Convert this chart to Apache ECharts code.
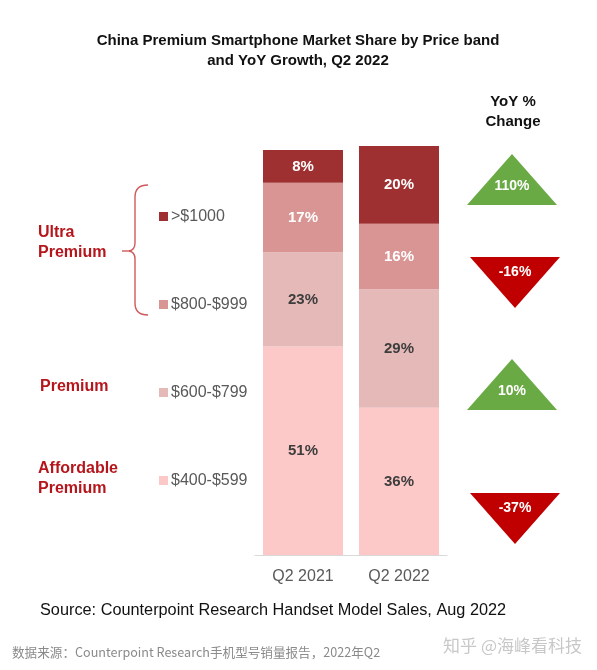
<!DOCTYPE html>
<html>
<head>
<meta charset="utf-8">
<script src="https://cdn.jsdelivr.net/npm/echarts@6/dist/echarts.min.js"></script>
<style>
html,body{margin:0;padding:0;background:#fff;}
#chart{width:597px;height:670px;}
</style>
</head>
<body>
<div id="chart"></div>
<script>
// ---- data ----
var categories = ['Q2 2021', 'Q2 2022'];
var bandNames = ['$400-$599', '$600-$799', '$800-$999', '>$1000'];
var share400 = [51, 36];
var share600 = [23, 29];
var share800 = [17, 16];
var share1000 = [8, 20];
var yoyBands = ['>$1000', '$800-$999', '$600-$799', '$400-$599'];
var yoyChange = [110, -16, 10, -37];
var groupLabels = ['Ultra\nPremium', 'Premium', 'Affordable\nPremium'];

// ---- styles ----
var FONT = '"Liberation Sans", Arial, sans-serif';
var bandColors = ['#fcc9c8', '#e5b9b8', '#d99594', '#9e3032'];
var labelColors = ['#3d3d3d', '#3d3d3d', '#ffffff', '#ffffff'];
var shareSeries = [share400, share600, share800, share1000];

var chart = echarts.init(document.getElementById('chart'), null, {renderer: 'canvas'});

var series = shareSeries.map(function (vals, i) {
  return {
    name: bandNames[i],
    type: 'bar',
    stack: 'share',
    barWidth: 80,
    data: vals,
    itemStyle: {color: bandColors[i]},
    label: {
      show: true, position: 'inside', formatter: '{c}%',
      fontFamily: FONT, fontWeight: 'bold', fontSize: 15, color: labelColors[i]
    },
    emphasis: {disabled: true}
  };
});

// YoY triangles
var triX = 512, triW = 90, triH = 51;
var triTops = [154, 257, 359, 493];
var graphics = [];
yoyChange.forEach(function (v, i) {
  var up = v >= 0;
  var t = triTops[i], b = t + triH;
  var cx = up ? triX : triX + 3;
  var pts = up ? [[cx, t], [cx + triW / 2, b], [cx - triW / 2, b]]
               : [[cx - triW / 2, t], [cx + triW / 2, t], [cx, b]];
  graphics.push({
    type: 'polygon', shape: {points: pts},
    style: {fill: up ? '#6aaa45' : '#c00000'}
  });
  graphics.push({
    type: 'text', x: cx, y: up ? t + 32 : t + 15,
    style: {
      text: v + '%', fill: '#ffffff', font: 'bold 14px ' + FONT,
      textAlign: 'center', textVerticalAlign: 'middle'
    }
  });
});

// Title, headers, notes
graphics.push({
  type: 'text', x: 298, y: 51,
  style: {
    text: 'China Premium Smartphone Market Share by Price band\nand YoY Growth, Q2 2022',
    fill: '#111', font: 'bold 15px ' + FONT, textAlign: 'center', textVerticalAlign: 'middle',
    lineHeight: 20
  }
});
graphics.push({
  type: 'text', x: 513, y: 112,
  style: {
    text: 'YoY %\nChange', fill: '#111', font: 'bold 15px ' + FONT,
    textAlign: 'center', textVerticalAlign: 'middle', lineHeight: 20
  }
});
// group labels
var groupPos = [[38, 243], [40, 387], [38, 479]];
groupLabels.forEach(function (g, i) {
  graphics.push({
    type: 'text', x: groupPos[i][0], y: groupPos[i][1],
    style: {
      text: g, fill: '#b5161c', font: 'bold 16px ' + FONT,
      textAlign: 'left', textVerticalAlign: 'middle', lineHeight: 20
    }
  });
});
// bracket
var brStyle = {fill: null, stroke: '#d0595b', lineWidth: 1.4};
graphics.push({type: 'bezierCurve', shape: {x1: 148, y1: 185, x2: 135, y2: 197, cpx1: 135, cpy1: 185}, style: brStyle});
graphics.push({type: 'line', shape: {x1: 135, y1: 197, x2: 135, y2: 243}, style: brStyle});
graphics.push({type: 'bezierCurve', shape: {x1: 135, y1: 243, x2: 129, y2: 251, cpx1: 135, cpy1: 250}, style: brStyle});
graphics.push({type: 'bezierCurve', shape: {x1: 129, y1: 251, x2: 135, y2: 259, cpx1: 135, cpy1: 252}, style: brStyle});
graphics.push({type: 'line', shape: {x1: 135, y1: 259, x2: 135, y2: 303}, style: brStyle});
graphics.push({type: 'bezierCurve', shape: {x1: 135, y1: 303, x2: 148, y2: 315, cpx1: 135, cpy1: 315}, style: brStyle});
graphics.push({type: 'line', shape: {x1: 122, y1: 251, x2: 130, y2: 251}, style: brStyle});

graphics.push({
  type: 'text', x: 40, y: 611,
  style: {
    text: 'Source: Counterpoint Research Handset Model Sales, Aug 2022',
    fill: '#111', font: '16.3px ' + FONT, textAlign: 'left', textVerticalAlign: 'middle'
  }
});
graphics.push({
  type: 'text', x: 12, y: 652,
  style: {
    text: '数据来源：Counterpoint Research手机型号销量报告，2022年Q2',
    fill: '#8a8a8a', font: '12.6px "Noto Sans CJK SC", sans-serif', textAlign: 'left', textVerticalAlign: 'middle'
  }
});
graphics.push({
  type: 'text', x: 582, y: 646,
  style: {
    text: '知乎 @海峰看科技',
    fill: '#c8c8c8', font: '17px "Noto Sans CJK SC", sans-serif', textAlign: 'right', textVerticalAlign: 'middle'
  }
});

var option = {
  backgroundColor: '#ffffff',
  animation: false,
  grid: {left: 255, right: 150, top: 146, bottom: 115},
  legend: {
    data: ['>$1000', '$800-$999', '$600-$799', '$400-$599'],
    orient: 'vertical', left: 154, top: 203,
    itemWidth: 9, itemHeight: 9, itemGap: 71, icon: 'rect',
    selectedMode: false,
    textStyle: {fontFamily: FONT, fontSize: 16, color: '#595959', lineHeight: 17, padding: [0, 0, 0, -2]}
  },
  xAxis: {
    type: 'category', data: categories,
    axisLine: {show: true, lineStyle: {color: '#d9d9d9', width: 1}},
    axisTick: {show: false},
    axisLabel: {fontFamily: FONT, fontSize: 16, color: '#595959', margin: 14}
  },
  yAxis: {
    type: 'value', min: 0, max: 100, show: false,
    splitLine: {show: false}
  },
  series: series,
  graphic: graphics
};
chart.setOption(option);
</script>
</body>
</html>
